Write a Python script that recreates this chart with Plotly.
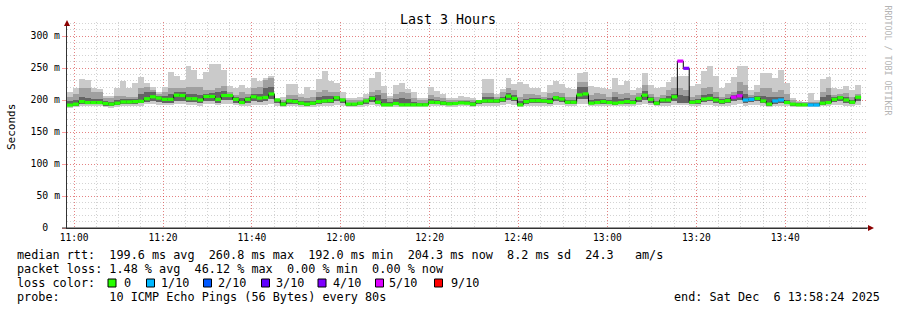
import plotly.graph_objects as go
import pandas as pd

# ---------------- data ----------------
END_TIME = "2025-12-06 13:58:24"
STEP_SECONDS = 80
HOURS = 3

rtt_median = [
    192.0, 193.5, 197.5, 196.0, 196.0, 196.0, 194.5, 193.5, 195.0, 197.0,
    197.0, 197.5, 198.0, 202.0, 205.0, 203.0, 201.0, 201.0, 207.5, 207.0,
    202.0, 202.0, 200.0, 205.5, 205.5, 201.0, 207.0, 207.0, 201.0, 196.0,
    201.0, 205.0, 203.0, 204.0, 209.4, 200.0, 193.5, 198.5, 197.5, 195.0,
    193.5, 195.0, 197.5, 198.5, 199.0, 203.5, 200.0, 193.5, 193.5, 195.0,
    198.5, 202.5, 196.5, 192.5, 192.5, 194.5, 192.5, 192.5, 192.5, 192.5,
    192.5, 196.5, 196.0, 195.0, 194.0, 194.5, 195.5, 195.0, 193.5, 197.5,
    198.5, 198.5, 198.5, 200.5, 206.0, 202.5, 192.5, 197.5, 199.0, 199.0,
    198.5, 197.5, 203.5, 201.5, 196.5, 196.5, 208.0, 209.5, 195.0, 196.0,
    197.5, 196.0, 195.0, 196.0, 197.5, 196.0, 202.5, 207.5, 201.0, 195.0,
    200.0, 200.0, 205.0, 260.8, 249.5, 196.5, 197.5, 201.5, 202.5, 200.0,
    197.5, 199.0, 204.5, 206.5, 200.0, 201.0, 202.5, 198.5, 193.5, 198.5,
    200.0, 196.0, 193.5, 192.5, 192.5, 192.2, 192.2, 195.0, 196.0, 201.0,
    203.5, 200.0, 196.5, 204.3,
]

smoke_max = [
    212, 219, 233, 231, 218, 217, 207, 207, 219, 230,
    218, 226, 236, 226, 221, 213, 221, 243, 238, 231,
    253, 247, 233, 244, 256, 256, 247, 222, 218, 224,
    218, 235, 229, 235, 238, 203, 204, 224.5, 224.5, 210,
    220, 215, 233, 245, 229, 226, 212, 203, 203, 205,
    209, 235, 243, 222, 207, 223, 226, 217, 212, 203,
    203, 220, 214, 210, 202.6, 203, 207, 205, 202.6, 200,
    233, 233, 209, 217, 234, 224.5, 228.6, 224.5, 219.3, 219.3,
    213, 223.4, 230, 224.5, 218, 216.7, 241.7, 244.3, 222.4, 220.8,
    219.3, 216.7, 233.8, 223.4, 229.7, 215.6, 218.2, 241.7, 223.4, 219.3,
    220.8, 228.6, 236.4, 238, 238, 222.4, 224.5, 245.3, 253, 238,
    218.2, 226, 236.4, 253, 253, 215.6, 223.4, 241.7, 241.7, 233.8,
    246.9, 226, 202.6, 199, 197.4, 210.4, 200, 232.8, 236.4, 218.2,
    216.7, 222.4, 215.6, 223.4,
]

smoke_p9 = [
    205, 210, 218, 218, 213, 213, 202.6, 202.6, 206, 206,
    205, 205, 218, 220, 215, 210, 213, 218, 218, 218,
    220.8, 220.8, 220.8, 215.6, 215.6, 218, 222.4, 213, 207.8, 213,
    208.8, 218, 220.8, 232, 234, 200, 200, 207.8, 207.8, 205,
    203, 205, 213, 215.6, 213, 213, 202.6, 200, 200, 200,
    202.6, 213, 215.6, 210.4, 202.6, 208.8, 212, 210.4, 202.6, 200,
    200, 207.8, 205, 202.6, 200, 200, 200, 200, 200, 200,
    210.4, 210.4, 205, 212, 218, 215.6, 205, 208.8, 208.8, 207.8,
    205, 210.4, 213, 210.4, 205, 205, 228.6, 228.6, 207.8, 210.4,
    208.8, 205, 213, 208.8, 210.4, 207.8, 210.4, 223.4, 208.8, 205,
    207.8, 215.6, 218, 218, 215.6, 205, 207.8, 218, 220.8, 213,
    205, 208.8, 213, 228.6, 223.4, 207.8, 213, 218, 218, 213,
    215.6, 208.8, 200, 197.4, 196.3, 197.4, 197.4, 213, 218, 207.8,
    208.8, 210.4, 205, 208.8,
]

smoke_p7 = [
    198, 200, 205, 203, 202, 202, 198, 197, 200, 201,
    201, 201, 210, 213, 212, 207, 207, 210, 213, 212,
    210, 209, 208, 210, 211, 213, 214, 210, 204, 203,
    205, 210, 210, 218, 220, 200, 197, 202, 201, 199,
    198, 199, 205, 207, 206, 207, 198, 196, 196, 197,
    199, 207, 208, 202, 197, 201, 203, 202, 197, 196,
    196, 201, 200, 198, 197, 197, 198, 198, 197, 199,
    204, 204, 201, 205, 211, 208, 199, 202, 203, 203,
    201, 203, 207, 205, 200, 200, 220, 220, 200, 202,
    202, 200, 205, 201, 203, 200, 205, 214, 204, 199,
    203, 207, 210, 208, 207, 200, 201, 208, 210, 205,
    201, 203, 208, 214, 210, 204, 206, 206, 205, 204,
    205, 200, 196, 195, 194.5, 195, 195, 205, 208, 204,
    206, 204, 200, 207,
]

smoke_p2 = [
    190, 191, 194, 193, 193, 193, 191, 190, 192, 194,
    194, 194, 195, 197, 198, 197, 196, 196, 199, 199,
    197, 197, 195, 199, 199, 196, 200, 200, 196, 193,
    196, 198, 197, 198, 201, 195, 191, 194, 194, 192,
    191, 192, 194, 195, 195, 198, 195, 191, 191, 192,
    194, 197, 193, 191, 191, 192, 191, 191, 191, 191,
    191, 193, 193, 192, 192, 192, 193, 193, 191, 194,
    195, 195, 195, 197, 200, 198, 191, 194, 195, 195,
    195, 194, 198, 197, 193, 193, 201, 202, 193, 193,
    194, 193, 192, 193, 194, 193, 197, 200, 196, 192,
    196, 196, 199, 196, 196, 193, 194, 197, 198, 196,
    194, 195, 199, 200, 196, 197, 198, 195, 191, 194,
    196, 193, 191, 191, 191, 191, 191, 192, 193, 197,
    198, 196, 193, 199,
]

smoke_min = [
    188, 189, 190, 190, 190, 190, 189, 188, 189, 190,
    190, 190, 191, 193, 193, 192, 192, 192, 193, 193,
    192, 192, 191, 193, 193, 192, 193, 193, 192, 190,
    191, 192, 192, 192, 194, 191, 189, 190, 190, 189,
    189, 189, 190, 191, 191, 192, 191, 189, 189, 189,
    190, 192, 190, 189, 189, 189, 189, 189, 189, 189,
    189, 190, 190, 190, 189, 189, 190, 190, 189, 190,
    191, 191, 191, 192, 193, 192, 189, 191, 191, 191,
    191, 191, 192, 192, 190, 190, 193, 194, 190, 190,
    191, 190, 190, 190, 191, 190, 192, 193, 192, 190,
    191, 191, 192, 192, 192, 190, 191, 192, 192, 191,
    190, 191, 192, 193, 191, 192, 192, 191, 189, 190,
    191, 190, 189, 189, 189, 189, 189, 190, 191, 192,
    192, 191, 190, 192,
]

lost_pings = [
    0, 0, 0, 0, 0, 0, 0, 0, 0, 0,
    0, 0, 0, 0, 0, 0, 0, 0, 0, 0,
    0, 0, 0, 0, 0, 0, 0, 0, 0, 0,
    0, 0, 0, 0, 0, 0, 0, 0, 0, 0,
    0, 0, 0, 0, 0, 0, 0, 0, 0, 0,
    0, 0, 0, 0, 0, 0, 0, 0, 0, 0,
    0, 0, 0, 0, 0, 0, 0, 0, 0, 0,
    0, 0, 0, 0, 0, 0, 0, 0, 0, 0,
    0, 0, 0, 0, 0, 0, 0, 0, 0, 0,
    0, 0, 0, 0, 0, 0, 0, 0, 0, 0,
    0, 0, 0, 5, 4, 0, 0, 0, 0, 0,
    0, 0, 5, 5, 1, 1, 0, 0, 0, 1,
    1, 0, 0, 0, 0, 1, 1, 0, 0, 0,
    0, 0, 0, 0,
]

loss_labels = ["0", "1/10", "2/10", "3/10", "4/10", "5/10", "9/10"]
loss_levels = [0, 1, 2, 3, 4, 5, 9]
loss_colors = ["#26ff00", "#00b8ff", "#0059ff", "#5e00ff", "#7e00ff", "#dd00ff", "#ff0000"]

y_tick_values = [0, 50, 100, 150, 200, 250, 300]
y_tick_labels = ["0\u00a0\u00a0", "50 m", "100 m", "150 m", "200 m", "250 m", "300 m"]
x_tick_labels = ["11:00", "11:20", "11:40", "12:00", "12:20", "12:40", "13:00", "13:20", "13:40"]

stats_line1 = "median rtt:  199.6 ms avg  260.8 ms max  192.0 ms min  204.3 ms now  8.2 ms sd  24.3   am/s"
stats_line2 = "packet loss: 1.48 % avg  46.12 % max  0.00 % min  0.00 % now"
probe_line = "probe:       10 ICMP Echo Pings (56 Bytes) every 80s"
end_line = "end: Sat Dec  6 13:58:24 2025"

# ---------------- geometry helpers (pixel -> paper) ----------------
W, H = 897, 310
L, R, T, B = 67, 30, 22, 82
PW, PH = W - L - R, H - T - B


def px(xp):
    return (xp - L) / PW


def py(yp):
    return (H - B - yp) / PH


FONT = "DejaVu Sans Mono"

end_ts = pd.Timestamp(END_TIME)
start_ts = end_ts - pd.Timedelta(hours=HOURS)
n = len(rtt_median)
step = pd.Timedelta(seconds=STEP_SECONDS)
centers = [start_ts + step * (i + 0.5) for i in range(n)]
edges = [start_ts + step * i for i in range(n + 1)]
bar_w = STEP_SECONDS * 1000

fig = go.Figure()


def band(lo, hi, color):
    fig.add_trace(go.Bar(
        x=centers, base=lo, y=[h - l for l, h in zip(lo, hi)], width=bar_w,
        marker=dict(color=color, line=dict(width=0)), hoverinfo="skip"))


band(smoke_min, smoke_max, "#cacaca")
band(smoke_p2, smoke_p9, "#a0a0a0")
band(smoke_p2, smoke_p7, "#646464")

# median step line (black)
fig.add_trace(go.Scatter(
    x=edges, y=rtt_median + [rtt_median[-1]], mode="lines",
    line=dict(color="#000000", width=1, shape="hv"), hoverinfo="skip"))

# loss-coloured median segments, drawn on top of the black step line
color_of = dict(zip(loss_levels, loss_colors))
for lvl in loss_levels:
    xs, ys = [], []
    for i, (m, k) in enumerate(zip(rtt_median, lost_pings)):
        if k == lvl:
            xs += [edges[i], edges[i + 1], None]
            ys += [m, m, None]
    if xs:
        fig.add_trace(go.Scatter(x=xs, y=ys, mode="lines", connectgaps=False,
                                 line=dict(color=color_of[lvl], width=3.2),
                                 hoverinfo="skip"))

grid_dash = "1px,2px"
major_grid = "rgba(255,0,0,0.38)"
minor_grid = "rgba(140,140,140,0.38)"
fig.update_layout(
    width=W, height=H, margin=dict(l=L, r=R, t=T, b=B, pad=0),
    paper_bgcolor="white", plot_bgcolor="white",
    barmode="overlay", bargap=0, showlegend=False,
    font=dict(family=FONT, size=10, color="#000"),
    xaxis=dict(
        type="date", range=[start_ts, end_ts],
        tickvals=[pd.Timestamp(end_ts.strftime("%Y-%m-%d") + " " + t) for t in x_tick_labels],
        ticktext=x_tick_labels, ticks="", tickfont=dict(family=FONT, size=9.6, color="#000"),
        showgrid=True, gridcolor=major_grid, griddash=grid_dash, gridwidth=1,
        minor=dict(dtick=5 * 60 * 1000, tick0=end_ts.strftime("%Y-%m-%d") + " 11:00",
                   showgrid=True, gridcolor=minor_grid, griddash=grid_dash, gridwidth=1),
        showline=True, linecolor="#333", linewidth=1, zeroline=False, fixedrange=True,
    ),
    yaxis=dict(
        range=[0, PH / 0.64], tickvals=y_tick_values, ticktext=y_tick_labels,
        ticks="outside", ticklen=4, tickcolor=major_grid,
        tickfont=dict(family=FONT, size=9.8, color="#000"),
        showgrid=True, gridcolor=major_grid, griddash=grid_dash, gridwidth=1,
        minor=dict(dtick=10, showgrid=True, gridcolor=minor_grid,
                   griddash=grid_dash, gridwidth=1),
        showline=True, linecolor="#333", linewidth=1, zeroline=False, fixedrange=True,
    ),
)

ann = []
ann.append(dict(text="Last 3 Hours", x=px(448), y=py(19.5), xref="paper", yref="paper",
                showarrow=False, xanchor="center", yanchor="middle",
                font=dict(family=FONT, size=13.3, color="#000")))
ann.append(dict(text="Seconds", x=px(11), y=py(127), xref="paper", yref="paper",
                showarrow=False, xanchor="center", yanchor="middle", textangle=-90,
                font=dict(family=FONT, size=11, color="#000")))
ann.append(dict(text="RRDTOOL / TOBI OETIKER", x=px(887.5), y=py(60), xref="paper", yref="paper",
                showarrow=False, xanchor="center", yanchor="middle", textangle=90,
                font=dict(family=FONT, size=8.3, color="#b4b4b4")))

legend_font = dict(family=FONT, size=11.8, color="#000")


def text_at(s, xp, yp, anchor="left"):
    ann.append(dict(text=s.replace(" ", "\u00a0"), x=px(xp), y=py(yp), xref="paper", yref="paper",
                    showarrow=False, xanchor=anchor, yanchor="middle", font=legend_font,
                    borderpad=0))


text_at(stats_line1, 16, 254.5)
text_at(stats_line2, 16, 268.5)
text_at("loss color:", 16, 282.5)
text_at(probe_line, 16, 296.5)
text_at(end_line, 881, 296.5, anchor="right")

sq_x = [108, 146.5, 203.5, 261.5, 318, 375.5, 434.5]
lab_x = [123, 160, 217, 274.5, 331.5, 388, 449.5]
shapes = []
for c, lab, sx, lx in zip(loss_colors, loss_labels, sq_x, lab_x):
    shapes.append(dict(type="rect", xref="paper", yref="paper",
                       x0=px(sx), x1=px(sx + 8), y0=py(287), y1=py(279),
                       fillcolor=c, line=dict(color="#000", width=1)))
    text_at(lab, lx, 282.5)

# axis arrows
shapes.append(dict(type="path", xref="paper", yref="paper",
                   path=f"M {px(64)} {py(26)} L {px(70)} {py(26)} L {px(67)} {py(20)} Z",
                   fillcolor="#8b0000", line=dict(width=0)))
shapes.append(dict(type="path", xref="paper", yref="paper",
                   path=f"M {px(868)} {py(225)} L {px(868)} {py(231)} L {px(874)} {py(228)} Z",
                   fillcolor="#8b0000", line=dict(width=0)))
shapes.append(dict(type="line", xref="paper", yref="paper", x0=px(62), x1=px(868),
                   y0=0, y1=0, line=dict(color="#333", width=1)))

fig.update_layout(annotations=ann, shapes=shapes)

fig.write_html("out.html", config=dict(displayModeBar=False, staticPlot=True))
